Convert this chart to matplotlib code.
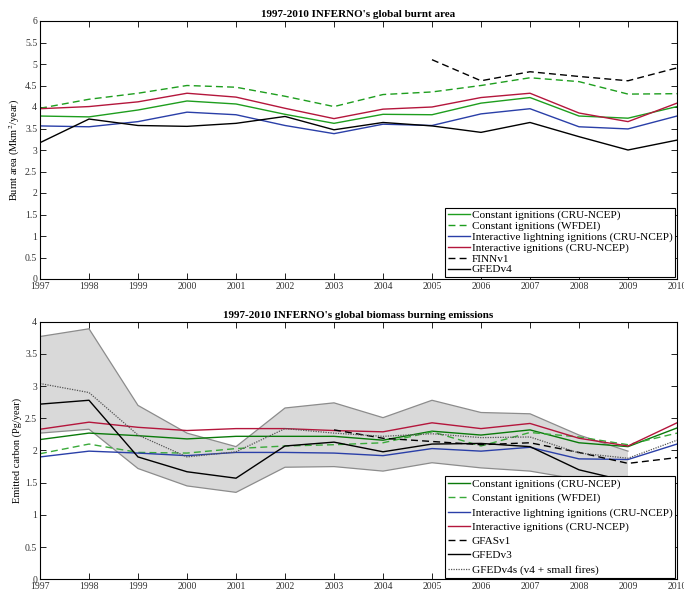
import numpy as np
import matplotlib
matplotlib.use("Agg")
import matplotlib.pyplot as plt

plt.rcParams['font.family'] = ['Liberation Serif', 'DejaVu Serif']
plt.rcParams['mathtext.fontset'] = 'stix'

years = list(range(1997, 2011))
nan = np.nan

# ---- Burnt area (Mkm^2/year) ----
ba_const_cru = [3.79, 3.77, 3.93, 4.14, 4.07, 3.83, 3.62, 3.83, 3.82, 4.09, 4.22, 3.79, 3.74, 4.01]
ba_const_wfdei = [3.97, 4.18, 4.32, 4.50, 4.46, 4.25, 4.01, 4.29, 4.35, 4.50, 4.68, 4.59, 4.30, 4.31]
ba_light_cru = [3.56, 3.54, 3.66, 3.88, 3.82, 3.57, 3.38, 3.60, 3.57, 3.84, 3.96, 3.54, 3.49, 3.79]
ba_inter_cru = [3.96, 4.01, 4.12, 4.32, 4.23, 3.97, 3.73, 3.95, 4.00, 4.22, 4.32, 3.86, 3.66, 4.09]
ba_finn = [nan, nan, nan, nan, nan, nan, nan, nan, 5.10, 4.61, 4.82, 4.71, 4.61, 4.91]
ba_gfed4 = [3.17, 3.72, 3.57, 3.55, 3.62, 3.78, 3.47, 3.64, 3.56, 3.41, 3.64, 3.31, 3.00, 3.23]

# ---- Emissions (Pg/year) ----
em_const_cru = [2.17, 2.27, 2.23, 2.18, 2.22, 2.22, 2.22, 2.16, 2.30, 2.24, 2.32, 2.12, 2.06, 2.35]
em_const_wfdei = [1.95, 2.10, 1.97, 1.96, 2.03, 2.07, 2.09, 2.12, 2.29, 2.07, 2.28, 2.21, 2.09, 2.27]
em_light_cru = [1.90, 1.99, 1.96, 1.92, 1.97, 1.97, 1.96, 1.92, 2.03, 1.99, 2.05, 1.87, 1.86, 2.10]
em_inter_cru = [2.33, 2.44, 2.36, 2.31, 2.34, 2.34, 2.31, 2.29, 2.43, 2.34, 2.42, 2.19, 2.07, 2.43]
em_gfas = [nan, nan, nan, nan, nan, nan, 2.32, 2.19, 2.14, 2.09, 2.12, 1.97, 1.80, 1.89]
em_gfed3 = [2.72, 2.78, 1.90, 1.67, 1.57, 2.07, 2.13, 1.98, 2.10, 2.11, 2.06, 1.70, 1.52, nan]
em_gfed4s = [3.04, 2.90, 2.24, 1.90, 1.98, 2.34, 2.27, 2.22, 2.26, 2.20, 2.21, 1.96, 1.88, 2.16]
band_years = list(range(1997, 2010))
em_band_hi = [3.77, 3.89, 2.70, 2.27, 2.06, 2.66, 2.74, 2.51, 2.78, 2.59, 2.57, 2.24, 1.99]
em_band_lo = [2.27, 2.33, 1.72, 1.45, 1.35, 1.74, 1.75, 1.68, 1.81, 1.73, 1.68, 1.55, 1.48]

fig = plt.figure(figsize=(6.84, 5.96), dpi=100)
ax1 = fig.add_axes([40/684, 1-279/596, 637/684, 258/596])
ax2 = fig.add_axes([40/684, 1-579.3/596, 637/684, 257.6/596])

green = '#1e9e1e'
green_d = '#0a7a0a'
green_l = '#3aaa3a'
blue = '#2a3fa8'
red = '#b4163c'
lw = 1.0

ax1.plot(years, ba_const_cru, color=green, lw=lw, label='Constant ignitions (CRU-NCEP)')
ax1.plot(years, ba_const_wfdei, color=green, lw=lw, ls=(0, (5, 3)), label='Constant ignitions (WFDEI)')
ax1.plot(years, ba_light_cru, color=blue, lw=lw, label='Interactive lightning ignitions (CRU-NCEP)')
ax1.plot(years, ba_inter_cru, color=red, lw=lw, label='Interactive ignitions (CRU-NCEP)')
ax1.plot(years, ba_finn, color='black', lw=lw, ls=(0, (5, 3)), label='FINNv1')
ax1.plot(years, ba_gfed4, color='black', lw=lw, label='GFEDv4')

ax2.fill_between(band_years, em_band_lo, em_band_hi, facecolor='#d9d9d9', edgecolor='none', zorder=1)
ax2.plot(band_years, em_band_hi, color='#8c8c8c', lw=0.9, zorder=1.5)
ax2.plot(band_years, em_band_lo, color='#8c8c8c', lw=0.9, zorder=1.5)
ax2.plot(years, em_const_cru, color=green_d, lw=lw, label='Constant ignitions (CRU-NCEP)')
ax2.plot(years, em_const_wfdei, color=green_l, lw=lw, ls=(0, (5, 3)), label='Constant ignitions (WFDEI)')
ax2.plot(years, em_light_cru, color=blue, lw=lw, label='Interactive lightning ignitions (CRU-NCEP)')
ax2.plot(years, em_inter_cru, color=red, lw=lw, label='Interactive ignitions (CRU-NCEP)')
ax2.plot(years, em_gfas, color='black', lw=lw, ls=(0, (5, 3)), label='GFASv1')
ax2.plot(years, em_gfed3, color='black', lw=lw, label='GFEDv3')
ax2.plot(years, em_gfed4s, color='#555555', lw=0.9, ls=(0, (1, 1)), label='GFEDv4s (v4 + small fires)')

for ax, ymax, title, ylab, lsp in [
    (ax1, 6, "1997-2010 INFERNO's global burnt area", 'Burnt area (Mkm$^2$/year)', 0.07),
    (ax2, 4, "1997-2010 INFERNO's global biomass burning emissions", 'Emitted carbon (Pg/year)', 0.38)]:
    ax.set_xlim(1997, 2010)
    ax.set_ylim(0, ymax)
    ax.set_xticks(years)
    ax.set_xticklabels([str(y) for y in years])
    ax.set_yticks(np.arange(0, ymax + 0.01, 0.5))
    ax.set_yticklabels(['%g' % v for v in np.arange(0, ymax + 0.01, 0.5)])
    ax.tick_params(direction='in', top=True, right=True, length=4.5, width=0.7,
                   labelsize=7, labelcolor='#333333', color='#222222', pad=2)
    for s in ax.spines.values():
        s.set_linewidth(0.8)
    ax.set_title(title, fontsize=8, fontweight='bold', pad=3)
    ax.set_ylabel(ylab, fontsize=7.5, labelpad=2)
    leg = ax.legend(loc='lower right', fontsize=8.1, frameon=True, fancybox=False,
                    borderaxespad=0.15, handlelength=1.9, handletextpad=0.2,
                    labelspacing=lsp, borderpad=0.25)
    leg.get_frame().set_edgecolor('black')
    leg.get_frame().set_linewidth(0.8)
    leg.get_frame().set_alpha(1)
    leg.set_zorder(10)

fig.savefig('out.png', dpi=100)
